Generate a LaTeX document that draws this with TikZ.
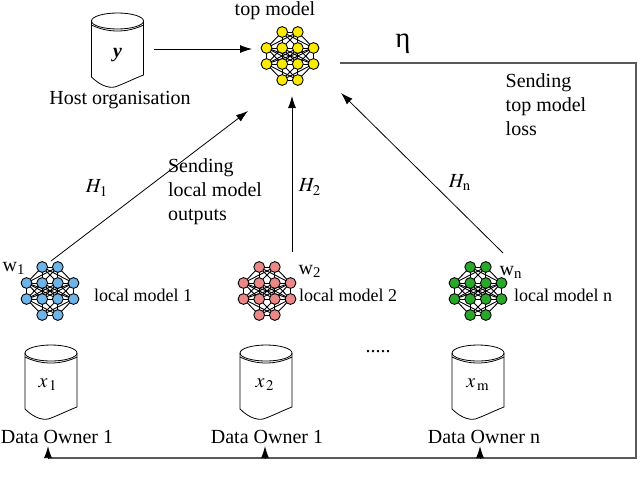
\documentclass[tikz,border=0pt]{standalone}
\usepackage{mathptmx}
\usepackage{fontspec}
\setmainfont{Liberation Serif}
\usepackage{tikz}
\usetikzlibrary{arrows,arrows.meta}

\definecolor{netblue}{RGB}{110,180,230}
\definecolor{netpink}{RGB}{235,135,135}
\definecolor{netgreen}{RGB}{40,170,40}
\definecolor{netyellow}{RGB}{250,235,0}

\tikzset{
 unit/.style={draw=black,line width=0.45pt},
 fbline/.style={draw=black!65,line width=0.8pt},
 sublbl/.style={font=\small},
}

% small network: x, y, colour, name
\newcommand{\nnet}[4]{%
\begin{scope}[shift={(#1,#2)}]
\foreach \p in {-7.8,7.8}{\foreach \q in {-23.5,-7.8,7.8,23.5}{%
 \draw[unit] (\p,-24) -- (\q,-8);
 \draw[unit] (\q,8) -- (\p,24);}}
\foreach \p in {-23.5,-7.8,7.8,23.5}{\foreach \q in {-23.5,-7.8,7.8,23.5}{%
 \draw[unit] (\p,-8) -- (\q,8);}}
\draw[unit] (-7.8,-24) -- (7.8,-24) (-23.5,-8) -- (23.5,-8)
 (-23.5,8) -- (23.5,8) (-7.8,24) -- (7.8,24);
\foreach \p/\r in {-7.8/-24,7.8/-24,-7.8/24,7.8/24,
 -23.5/-8,-7.8/-8,7.8/-8,23.5/-8,
 -23.5/8,-7.8/8,7.8/8,23.5/8}
 \filldraw[fill=#3,unit] (\p,\r) circle[radius=2.7pt];
\end{scope}
\node[minimum width=30pt,minimum height=30pt,inner sep=0pt] (#4) at (#1,#2) {};
}

% database drum: x, y of top ellipse
\newcommand{\dbcyl}[2]{%
\begin{scope}[shift={(#1,#2)}]
\draw (0,0) ellipse [x radius=13pt, y radius=4pt];
\draw (-26,4) .. controls (-10,12) and (10,12) .. (26,4);
\draw (-26,0) -- (-26,56) .. controls (-16,66) and (-6,68) .. (0,65)
 .. controls (8,62) and (18,57) .. (26,54) -- (26,0);
\end{scope}
}

\begin{document}
\begin{tikzpicture}[x=0.5pt,y=-0.5pt,>={Latex[length=6pt,width=4pt]}]
\useasboundingbox (0,0) rectangle (640,487);

% host and top model
\dbcyl{117.5}{21}
\node (yvar) at (117.5,55) {\textbf{\textit{y}}};
\node (host) at (120,100) {Host organisation};
\nnet{290}{56}{netyellow}{top}
\node (toplbl) at (275,11) {top model};
\node (eta) at (403,44) {\Large η};
\coordinate (hostout) at (154,49);
\coordinate (topin) at (252,49);
\draw[->] (hostout) -- (topin);

% local models
\nnet{50}{291}{netblue}{loc1}
\nnet{267}{291}{netpink}{loc2}
\nnet{478}{291}{netgreen}{loc3}
\node (w1) at (14,268) {w\textsubscript{1}};
\node (w2) at (310,271) {w\textsubscript{2}};
\node (wn) at (511,272) {w\textsubscript{n}};
\node[sublbl] (lm1) at (143,295) {local model 1};
\node[sublbl] (lm2) at (348,295) {local model 2};
\node[sublbl] (lmn) at (563,295) {local model n};

% outputs to the top model
\coordinate (out1) at (51,261);
\coordinate (in1) at (248,111);
\coordinate (out2) at (292,252);
\coordinate (in2) at (292,96);
\coordinate (out3) at (503,253);
\coordinate (in3) at (341,93);
\draw[->] (out1) -- (in1);
\draw[->] (out2) -- (in2);
\draw[->] (out3) -- (in3);
\node (h1) at (97,188) {$H_{\mathrm{1}}$};
\node (h2) at (310,187) {$H_{\mathrm{2}}$};
\node (hn) at (460,183) {$H_{\mathrm{n}}$};
\node[align=left] (sendout) at (215,192) {Sending\\local model\\outputs};
\node[align=left] (sendloss) at (546,105) {Sending\\top model\\loss};

% data owners
\dbcyl{51}{353}
\dbcyl{266}{353}
\dbcyl{478}{353}
\node (x1) at (48,385) {$x_{\,\mathrm{1}}$};
\node (x2) at (265,385) {$x_{\,\mathrm{2}}$};
\node (xm) at (478,385) {$x_{\,\mathrm{m}}$};
\node (dots) at (378,352) {.....};
\node[inner sep=1pt] (own1) at (57,437) {Data Owner 1};
\node[inner sep=1pt] (own2) at (267,437) {Data Owner 1};
\node[inner sep=1pt] (own3) at (484,437) {Data Owner n};

% loss sent back
\coordinate (fbstart) at (340,63);
\coordinate (fbright) at (636,63);
\coordinate (fbdown) at (636,458);
\coordinate (fbend) at (48,458);
\draw[fbline] (fbstart) -- (fbright) -- (fbdown) -- (fbend);
\foreach \k/\xx in {1/48,2/265,3/480}{
 \coordinate (fb\k) at (\xx,458);
 \draw[->] (fb\k) -- (fb\k |- own\k.south);
}
\end{tikzpicture}
\end{document}
